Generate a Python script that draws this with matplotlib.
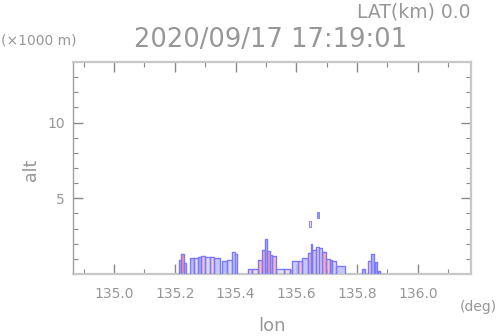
import matplotlib
matplotlib.use("Agg")
import matplotlib.pyplot as plt
from matplotlib.colors import LinearSegmentedColormap
from matplotlib.ticker import MultipleLocator
import numpy as np

# echo columns: left lon, right lon, top height (km), tint (-1 blue .. +1 red)
seg_lon0 = [135.215, 135.222, 135.230, 135.250, 135.262, 135.277, 135.287, 135.300, 135.315, 135.330,
            135.356, 135.372, 135.389, 135.398, 135.442, 135.455, 135.475, 135.488, 135.498, 135.504,
            135.512, 135.521, 135.534, 135.560, 135.580, 135.587, 135.605, 135.620, 135.639, 135.647,
            135.652, 135.666, 135.675, 135.685, 135.699, 135.710, 135.718, 135.731, 135.817, 135.837,
            135.847, 135.860, 135.870]
seg_lon1 = [135.222, 135.230, 135.236, 135.262, 135.277, 135.287, 135.300, 135.315, 135.330, 135.349,
            135.372, 135.389, 135.398, 135.406, 135.455, 135.475, 135.488, 135.498, 135.504, 135.512,
            135.521, 135.534, 135.560, 135.580, 135.587, 135.605, 135.620, 135.639, 135.647, 135.652,
            135.666, 135.675, 135.685, 135.699, 135.710, 135.718, 135.731, 135.761, 135.827, 135.847,
            135.857, 135.867, 135.877]
seg_top = [0.9, 1.3, 0.7, 1.05, 1.05, 1.1, 1.2, 1.15, 1.1, 1.05,
           0.85, 0.9, 1.45, 1.35, 0.33, 0.35, 0.9, 1.6, 2.3, 1.5,
           1.25, 1.2, 0.35, 0.35, 0.25, 0.85, 0.85, 1.05, 1.4, 2.0,
           1.6, 1.8, 1.75, 1.45, 1.0, 0.9, 0.85, 0.5, 0.3, 0.85,
           1.3, 0.8, 0.2]
seg_tint = [0.8, 0.9, 0.6, -0.6, -0.2, -0.7, 0.5, -0.3, 0.4, -0.5,
            -0.6, -0.3, -0.4, 0.2, 0.5, 0.3, 0.6, 0.7, -0.6, 0.8,
            0.4, 0.6, -0.2, 0.3, -0.3, -0.4, 0.5, -0.5, 0.6, 0.9,
            -0.5, 0.4, -0.3, 0.7, 0.5, 0.8, -0.3, -0.5, -0.8, 0.4,
            -0.7, -0.8, -0.9]

# isolated elevated echoes: lon0, lon1, bottom, top, tint
cell_lon0 = [135.642, 135.668]
cell_lon1 = [135.648, 135.674]
cell_bot = [3.1, 3.7]
cell_top = [3.5, 4.1]
cell_tint = [0.3, -0.8]

xticks = [135.0, 135.2, 135.4, 135.6, 135.8, 136.0]
xticklabels = ["135.0", "135.2", "135.4", "135.6", "135.8", "136.0"]
yticks = [5, 10]
yticklabels = ["5", "10"]

gray = "#979797"
cmap = LinearSegmentedColormap.from_list("bwr_pale", ["#7878ff", "#f8f8ff", "#ff6c6c"])

fig = plt.figure(figsize=(4.98, 3.36), dpi=100)
ax = fig.add_axes([73/498, 62/336, 398/498, 212/336])
ax.set_xlim(134.865, 136.175)
ax.set_ylim(0, 14)

for l0, l1, t, c in zip(seg_lon0, seg_lon1, seg_top, seg_tint):
    ax.bar(l0, t, width=l1 - l0, bottom=0, align="edge",
           color=cmap((c + 1) / 2), alpha=0.8, edgecolor="none", zorder=2)
    ax.plot([l0, l0, l1, l1], [0, t, t, 0], color="#7a7aff", lw=1.0, zorder=3)

for l0, l1, b, t, c in zip(cell_lon0, cell_lon1, cell_bot, cell_top, cell_tint):
    ax.bar(l0, t - b, width=l1 - l0, bottom=b, align="edge",
           color=cmap((c + 1) / 2), edgecolor="#7a7aff", lw=0.6, zorder=3)

ax.set_xticks(xticks)
ax.set_xticklabels(xticklabels)
ax.set_yticks(yticks)
ax.set_yticklabels(yticklabels)
ax.xaxis.set_minor_locator(MultipleLocator(0.1))
ax.yaxis.set_minor_locator(MultipleLocator(1))
ax.tick_params(which="both", direction="in", top=True, right=True, colors="#8a8a8a",
               labelcolor=gray, labelsize=10)
ax.tick_params(which="major", length=7, width=1)
ax.tick_params(which="minor", length=3.5, width=0.8)
ax.tick_params(axis="x", pad=9)
ax.tick_params(axis="y", pad=6)

for side in ["top", "bottom", "right"]:
    ax.spines[side].set_color("#c8c8c8")
    ax.spines[side].set_linewidth(1.6)
ax.spines["left"].set_color("#a0a0a0")
ax.spines["left"].set_linewidth(1.0)

fig.text(470/498, 1 - 12/336, "LAT(km) 0.0", ha="right", va="center", fontsize=13.5, color=gray)
fig.text(271/498, 1 - 40/336, "2020/09/17 17:19:01", ha="center", va="center", fontsize=18.5, color=gray)
fig.text(1/498, 1 - 40/336, "(\u00d71000 m)", ha="left", va="center", fontsize=10, color=gray)
fig.text(31/498, 1 - 170/336, "alt", ha="center", va="center", fontsize=12.5, color=gray, rotation=90)
fig.text(272/498, 1 - 326/336, "lon", ha="center", va="center", fontsize=13, color=gray)
fig.text(497/498, 1 - 307/336, "(deg)", ha="right", va="center", fontsize=10, color=gray)

fig.savefig("out.png", dpi=100, facecolor="white")
